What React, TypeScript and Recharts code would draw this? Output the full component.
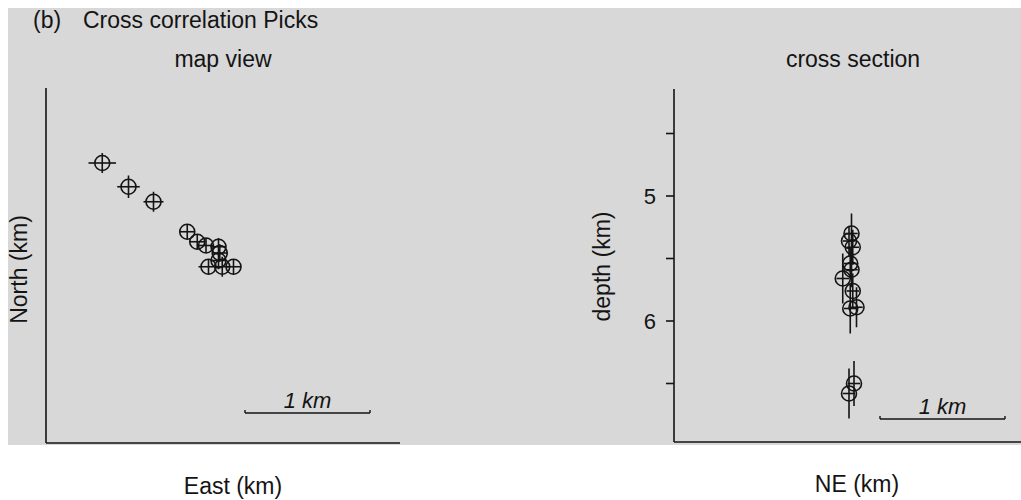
import React from 'react';
import { ScatterChart, Scatter, XAxis, YAxis, ErrorBar, ReferenceLine } from 'recharts';

const INK = '#141414';
const FONT = '"Liberation Sans", Arial, Helvetica, sans-serif';

// map view (km)
const mapEast = [0.45, 0.66, 0.86, 1.13, 1.21, 1.28, 1.38, 1.39, 1.38, 1.30, 1.41, 1.50];
const mapNorth = [2.24, 2.05, 1.93, 1.69, 1.61, 1.58, 1.57, 1.52, 1.46, 1.41, 1.41, 1.41];
const mapErrE = [0.11, 0.09, 0.08, 0.06, 0.06, 0.06, 0.06, 0.06, 0.06, 0.08, 0.06, 0.06];
const mapErrN = [0.08, 0.09, 0.08, 0.06, 0.06, 0.06, 0.07, 0.07, 0.07, 0.06, 0.08, 0.06];

// cross section (km)
const secNE = [1.42, 1.40, 1.43, 1.41, 1.42, 1.35, 1.43, 1.41, 1.46, 1.44, 1.40];
const secDepth = [5.30, 5.36, 5.41, 5.54, 5.59, 5.66, 5.76, 5.90, 5.89, 6.50, 6.58];
const secErrNE = [0.05, 0.05, 0.05, 0.05, 0.05, 0.05, 0.05, 0.05, 0.05, 0.05, 0.05];
const secErrDepth = [0.16, 0.12, 0.14, 0.12, 0.14, 0.2, 0.14, 0.2, 0.16, 0.18, 0.2];

const depthTicks = [4.5, 5, 5.5, 6, 6.5];
const depthLabels = [5, 6];

const mapData = mapEast.map((x, i) => ({ x, y: mapNorth[i], ex: mapErrE[i], ey: mapErrN[i] }));
const secData = secNE.map((x, i) => ({ x, y: secDepth[i], ex: secErrNE[i], ey: secErrDepth[i] }));

const Ring = (p: any) => (
  <circle cx={p.cx} cy={p.cy} r={7.5} fill="none" stroke={INK} strokeWidth={1.6} />
);

const kmLabel = { value: '1 km', position: 'top' as const, fontSize: 22, fontStyle: 'italic', fill: INK, fontFamily: FONT };

const txt = (s: string, left: number, top: number, width: number, extra: any = {}) => (
  <div
    style={{
      position: 'absolute', left, top, width, textAlign: 'center', fontSize: 23,
      lineHeight: '23px', fontFamily: FONT, color: INK, whiteSpace: 'nowrap', ...extra,
    }}
  >
    {s}
  </div>
);

export default function App() {
  const axisProps = { stroke: INK, strokeWidth: 1.6 };
  return (
    <div style={{ position: 'absolute', left: 0, top: 0, width: 1021, height: 500, background: '#fff', overflow: 'hidden', fontFamily: FONT }}>
      <div style={{ position: 'absolute', left: 8, top: 8, width: 1013, height: 437, background: '#d8d8d8' }} />

      <div style={{ position: 'absolute', left: 33, top: 9, fontSize: 23, lineHeight: '23px', color: INK }}>(b)</div>
      <div style={{ position: 'absolute', left: 83, top: 9, fontSize: 23, lineHeight: '23px', color: INK }}>Cross correlation Picks</div>
      {txt('map view', 123, 48, 200)}
      {txt('cross section', 753, 48, 200)}
      {txt('East (km)', 133, 475, 200)}
      {txt('NE (km)', 757, 473, 200)}
      {txt('North (km)', -81, 258, 200, { transform: 'rotate(-90deg)' })}
      {txt('depth (km)', 502, 255, 200, { transform: 'rotate(-90deg)' })}

      <div style={{ position: 'absolute', left: 0, top: 0 }}>
        <ScatterChart width={420} height={460} margin={{ top: 88, right: 20, bottom: 16, left: 45 }}>
          <XAxis type="number" dataKey="x" domain={[0, 2.832]} allowDataOverflow tick={false} tickLine={false} height={1} axisLine={axisProps} />
          <YAxis type="number" dataKey="y" domain={[0, 2.84]} allowDataOverflow tick={false} tickLine={false} width={1} axisLine={axisProps} />
          <ReferenceLine segment={[{ x: 1.592, y: 0.24 }, { x: 2.592, y: 0.24 }]} stroke={INK} strokeWidth={1.6} label={kmLabel} />
          <ReferenceLine segment={[{ x: 1.592, y: 0.24 }, { x: 1.592, y: 0.265 }]} stroke={INK} strokeWidth={1.4} />
          <ReferenceLine segment={[{ x: 2.592, y: 0.24 }, { x: 2.592, y: 0.265 }]} stroke={INK} strokeWidth={1.4} />
          <Scatter data={mapData} shape={Ring} isAnimationActive={false}>
            <ErrorBar dataKey="ex" direction="x" width={0} stroke={INK} strokeWidth={1.6} isAnimationActive={false} />
            <ErrorBar dataKey="ey" direction="y" width={0} stroke={INK} strokeWidth={1.6} isAnimationActive={false} />
          </Scatter>
        </ScatterChart>
      </div>

      <div style={{ position: 'absolute', left: 560, top: 0 }}>
        <ScatterChart width={461} height={460} margin={{ top: 89, right: 0, bottom: 17, left: 74 }}>
          <XAxis type="number" dataKey="x" domain={[0, 2.776]} allowDataOverflow tick={false} tickLine={false} height={1} axisLine={axisProps} />
          <YAxis
            type="number" dataKey="y" domain={[4.144, 6.968]} reversed allowDataOverflow width={40}
            ticks={depthTicks} interval={0} tickSize={8} tickMargin={10}
            tickFormatter={(v: number) => (depthLabels.includes(v) ? String(v) : '')}
            tick={{ fill: INK, fontSize: 22, fontFamily: FONT }}
            tickLine={{ stroke: INK, strokeWidth: 1.6 }}
            axisLine={axisProps}
          />
          <ReferenceLine segment={[{ x: 1.648, y: 6.784 }, { x: 2.648, y: 6.784 }]} stroke={INK} strokeWidth={1.6} label={kmLabel} />
          <ReferenceLine segment={[{ x: 1.648, y: 6.784 }, { x: 1.648, y: 6.76 }]} stroke={INK} strokeWidth={1.4} />
          <ReferenceLine segment={[{ x: 2.648, y: 6.784 }, { x: 2.648, y: 6.76 }]} stroke={INK} strokeWidth={1.4} />
          <Scatter data={secData} shape={Ring} isAnimationActive={false}>
            <ErrorBar dataKey="ex" direction="x" width={0} stroke={INK} strokeWidth={1.6} isAnimationActive={false} />
            <ErrorBar dataKey="ey" direction="y" width={0} stroke={INK} strokeWidth={1.6} isAnimationActive={false} />
          </Scatter>
        </ScatterChart>
      </div>
    </div>
  );
}
